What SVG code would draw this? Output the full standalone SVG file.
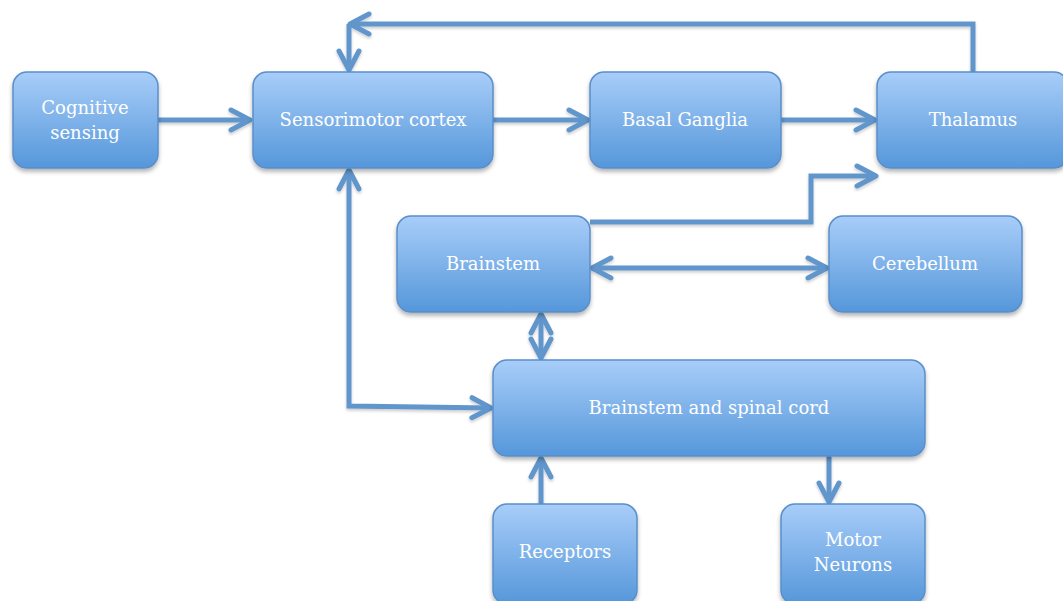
<svg xmlns="http://www.w3.org/2000/svg" width="1063" height="601" viewBox="0 0 1063 601">
<style>
.box{fill:url(#g);stroke:#5A8FCB;stroke-width:1.5;filter:url(#sh)}
.t{font-family:"DejaVu Serif","Liberation Serif",serif;font-size:18px;fill:#ffffff;text-anchor:middle}
.c{fill:none;stroke:#6196CB;stroke-width:5;stroke-linejoin:miter}
</style>
<defs>
<linearGradient id="g" x1="0" y1="0" x2="0" y2="1">
<stop offset="0" stop-color="#A8CDF9"/>
<stop offset="1" stop-color="#5597DA"/>
</linearGradient>
<filter id="sh" x="-10%" y="-10%" width="120%" height="130%">
<feDropShadow dx="0" dy="3" stdDeviation="2" flood-color="#000" flood-opacity="0.3"/>
</filter>
<filter id="sh2" filterUnits="userSpaceOnUse" x="0" y="0" width="1063" height="601">
<feDropShadow dx="0" dy="2" stdDeviation="1.5" flood-color="#000" flood-opacity="0.2"/>
</filter>
<marker id="a" viewBox="0 0 26 26" refX="23" refY="13" markerWidth="26" markerHeight="26" markerUnits="userSpaceOnUse" orient="auto-start-reverse">
<path d="M4,3 L23,13 L4,23" fill="none" stroke="#6196CB" stroke-width="5" stroke-linecap="round" stroke-linejoin="round"/>
</marker>
</defs>
<g id="connectors" filter="url(#sh2)">
<path class="c" d="M158,120 H250" marker-end="url(#a)"/>
<path class="c" d="M493,120 H588" marker-end="url(#a)"/>
<path class="c" d="M781,120 H875" marker-end="url(#a)"/>
<path class="c" d="M973,72 V24 H350" marker-end="url(#a)"/>
<path class="c" d="M349,24 V70" marker-end="url(#a)"/>
<path class="c" d="M590,222 H811 V176 H876" marker-end="url(#a)"/>
<path class="c" d="M592,268 H827" marker-start="url(#a)" marker-end="url(#a)"/>
<path class="c" d="M541,314 V358" marker-start="url(#a)" marker-end="url(#a)"/>
<path class="c" d="M349,170 V406 L491,408" marker-start="url(#a)" marker-end="url(#a)"/>
<path class="c" d="M541,504 V458" marker-end="url(#a)"/>
<path class="c" d="M829,456 V502" marker-end="url(#a)"/>
</g>
<g id="cognitive">
<rect class="box" x="13" y="72" width="145" height="96" rx="14"/>
<text class="t" x="85" y="114">Cognitive</text>
<text class="t" x="85" y="139">sensing</text>
</g>
<g id="sensorimotor">
<rect class="box" x="253" y="72" width="240" height="96" rx="14"/>
<text class="t" x="373" y="126">Sensorimotor cortex</text>
</g>
<g id="basal">
<rect class="box" x="590" y="72" width="191" height="96" rx="14"/>
<text class="t" x="685" y="126">Basal Ganglia</text>
</g>
<g id="thalamus">
<rect class="box" x="877" y="72" width="191" height="96" rx="14"/>
<text class="t" x="973" y="126">Thalamus</text>
</g>
<g id="brainstem">
<rect class="box" x="397" y="216" width="193" height="96" rx="14"/>
<text class="t" x="493" y="270">Brainstem</text>
</g>
<g id="cerebellum">
<rect class="box" x="829" y="216" width="193" height="96" rx="14"/>
<text class="t" x="925" y="270">Cerebellum</text>
</g>
<g id="bsc">
<rect class="box" x="493" y="360" width="432" height="96" rx="14"/>
<text class="t" x="709" y="414">Brainstem and spinal cord</text>
</g>
<g id="receptors">
<rect class="box" x="493" y="504" width="144" height="100" rx="14"/>
<text class="t" x="565" y="558">Receptors</text>
</g>
<g id="motor">
<rect class="box" x="781" y="504" width="144" height="100" rx="14"/>
<text class="t" x="853" y="546">Motor</text>
<text class="t" x="853" y="571">Neurons</text>
</g>
</svg>
